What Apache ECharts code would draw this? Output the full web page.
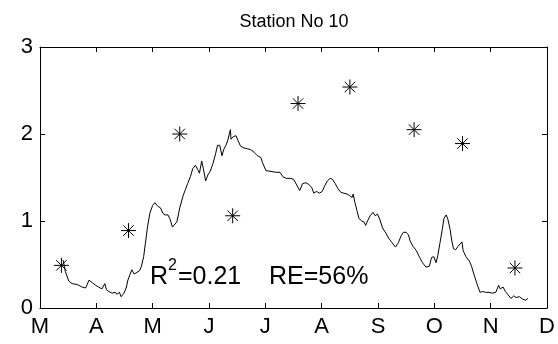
<!DOCTYPE html>
<html>
<head>
<meta charset="utf-8">
<script src="https://cdn.jsdelivr.net/npm/echarts@6/dist/echarts.min.js"></script>
<style>
  html, body { margin: 0; padding: 0; background: #fff; }
  #chart { width: 558px; height: 344px; }
</style>
</head>
<body>
<div id="chart"></div>
<script>
// Month labels along the x axis (one per month start, March to December)
const monthLabels = ['M', 'A', 'M', 'J', 'J', 'A', 'S', 'O', 'N', 'D'];
const yTicks = [0, 1, 2, 3];

// Simulated series: time in months since 1 March, value
const simX = [
  0.41, 0.45, 0.51, 0.57, 0.66, 0.75, 0.81, 0.87, 0.93, 0.99, 1.04, 1.10, 1.15, 1.18, 1.22, 1.28,
  1.33, 1.37, 1.41, 1.44, 1.49, 1.53, 1.56, 1.60, 1.63, 1.67, 1.72, 1.77, 1.80, 1.84, 1.87, 1.91,
  1.95, 2.00, 2.04, 2.09, 2.14, 2.18, 2.22, 2.27, 2.31, 2.35, 2.38, 2.43, 2.48, 2.54,
  2.58, 2.62, 2.67, 2.71, 2.76, 2.80, 2.83, 2.87, 2.90, 2.94, 2.98, 3.02, 3.07, 3.12, 3.15, 3.19,
  3.23, 3.26, 3.30, 3.33, 3.36, 3.38, 3.39, 3.43, 3.48, 3.51, 3.56, 3.62, 3.68, 3.74, 3.80, 3.86,
  3.92, 3.95, 4.01, 4.10, 4.18, 4.26, 4.31, 4.37, 4.44, 4.50, 4.56, 4.61, 4.66, 4.72, 4.77, 4.82,
  4.86, 4.91, 4.96, 5.01, 5.05, 5.10, 5.15, 5.19, 5.24, 5.29, 5.34, 5.39, 5.45, 5.50, 5.54, 5.56,
  5.59, 5.63, 5.66, 5.71, 5.75, 5.78, 5.82, 5.86, 5.91, 5.95, 5.99, 6.03, 6.08, 6.14, 6.19, 6.25,
  6.31, 6.36, 6.41, 6.45, 6.50, 6.54, 6.57, 6.62, 6.68, 6.74, 6.79, 6.85, 6.91, 6.95, 6.99, 7.03,
  7.06, 7.10, 7.14, 7.17, 7.21, 7.24, 7.28, 7.31, 7.34, 7.38, 7.42, 7.45, 7.49, 7.51, 7.56, 7.62,
  7.66, 7.71, 7.76, 7.81, 7.85, 7.91, 7.97, 8.03, 8.09, 8.14, 8.17, 8.22, 8.26, 8.31, 8.36, 8.41,
  8.45, 8.51, 8.57, 8.62, 8.66
];
const simY = [
  0.55, 0.42, 0.31, 0.28, 0.27, 0.24, 0.23, 0.32, 0.29, 0.26, 0.24, 0.22, 0.28, 0.21, 0.19, 0.17,
  0.18, 0.16, 0.18, 0.13, 0.17, 0.23, 0.32, 0.39, 0.44, 0.39, 0.41, 0.43, 0.48, 0.59, 0.74, 0.94,
  1.09, 1.18, 1.21, 1.17, 1.15, 1.09, 1.07, 1.07, 1.02, 0.93, 0.91, 0.99, 1.15, 1.29,
  1.36, 1.43, 1.51, 1.60, 1.64, 1.59, 1.55, 1.69, 1.60, 1.46, 1.53, 1.57, 1.66, 1.78, 1.87, 1.87,
  1.75, 1.82, 1.87, 1.92, 2.00, 2.05, 1.94, 1.97, 1.98, 1.93, 1.86, 1.84, 1.83, 1.82, 1.79, 1.75,
  1.73, 1.67, 1.58, 1.57, 1.56, 1.56, 1.51, 1.49, 1.49, 1.48, 1.41, 1.35, 1.43, 1.44, 1.42, 1.39,
  1.32, 1.34, 1.32, 1.34, 1.40, 1.46, 1.49, 1.48, 1.43, 1.37, 1.33, 1.32, 1.31, 1.29, 1.27, 1.31,
  1.21, 1.11, 1.03, 1.00, 0.99, 0.95, 1.01, 1.06, 1.10, 1.06, 1.08, 1.02, 0.92, 0.86, 0.80, 0.75,
  0.70, 0.75, 0.83, 0.87, 0.87, 0.84, 0.77, 0.71, 0.66, 0.58, 0.52, 0.47, 0.48, 0.58, 0.59, 0.52,
  0.60, 0.75, 0.90, 1.03, 1.07, 1.02, 0.90, 0.77, 0.68, 0.67, 0.71, 0.72, 0.76, 0.66, 0.59, 0.54,
  0.48, 0.37, 0.27, 0.18, 0.19, 0.18, 0.18, 0.17, 0.18, 0.26, 0.22, 0.24, 0.19, 0.15, 0.11, 0.14,
  0.12, 0.13, 0.10, 0.09, 0.11
];

// Observed values (asterisks)
const obsX = [0.38, 1.57, 2.48, 3.42, 4.58, 5.50, 6.64, 7.50, 8.43];
const obsY = [0.49, 0.89, 2.00, 1.06, 2.35, 2.54, 2.05, 1.89, 0.46];

const titleText = 'Station No 10';
const statR2 = '0.21';
const statRE = '56%';

const FONT = "'Liberation Sans', Arial, Helvetica, sans-serif";
const INK = '#000';

// MATLAB-style '*' marker: plus with shorter diagonals
const STAR = 'path://M0,-10L0,10M-10,0L10,0M-7,-7L7,7M-7,7L7,-7';

const chart = echarts.init(document.getElementById('chart'), null, { renderer: 'canvas' });

const boxAxis = (extra) => Object.assign({
  type: 'value',
  axisLine: { show: true, onZero: false, lineStyle: { color: INK, width: 1 } },
  axisTick: { show: true, inside: true, length: 5, lineStyle: { color: INK, width: 1 } },
  splitLine: { show: false },
  axisLabel: { show: false }
}, extra);

chart.setOption({
  animation: false,
  backgroundColor: '#fff',
  grid: { left: 40, right: 10, top: 47, bottom: 36, containLabel: false },
  xAxis: [
    boxAxis({
      position: 'bottom', min: 0, max: monthLabels.length - 1, interval: 1,
      axisLabel: {
        show: true, color: INK, fontFamily: FONT, fontSize: 22, margin: 8,
        hideOverlap: false, showMinLabel: true, showMaxLabel: true,
        formatter: (v) => monthLabels[Math.round(v)]
      }
    }),
    boxAxis({ position: 'top', min: 0, max: monthLabels.length - 1, interval: 1 })
  ],
  yAxis: [
    boxAxis({
      position: 'left', min: yTicks[0], max: yTicks[yTicks.length - 1], interval: 1,
      axisLabel: {
        show: true, color: INK, fontFamily: FONT, fontSize: 22, margin: 7,
        hideOverlap: false, showMinLabel: true, showMaxLabel: true
      }
    }),
    boxAxis({ position: 'right', min: yTicks[0], max: yTicks[yTicks.length - 1], interval: 1 })
  ],
  series: [
    {
      type: 'line',
      data: simX.map((x, i) => [x, simY[i]]),
      showSymbol: false,
      symbol: 'none',
      lineStyle: { color: INK, width: 1 },
      silent: true
    },
    {
      type: 'scatter',
      data: obsX.map((x, i) => [x, obsY[i]]),
      symbol: STAR,
      symbolSize: 15,
      itemStyle: { color: 'none', borderColor: INK, borderWidth: 1, opacity: 1 },
      silent: true
    }
  ],
  graphic: [
    {
      type: 'text', x: 294, y: 22,
      style: {
        text: titleText, fill: INK, font: `18px ${FONT}`,
        textAlign: 'center', textVerticalAlign: 'middle'
      }
    },
    // R² annotation: base letter, raised exponent, then the value
    {
      type: 'text', x: 150, y: 277,
      style: { text: 'R', fill: INK, font: `25px ${FONT}`, textVerticalAlign: 'middle' }
    },
    {
      type: 'text', x: 168, y: 266,
      style: { text: '2', fill: INK, font: `16px ${FONT}`, textVerticalAlign: 'middle' }
    },
    {
      type: 'text', x: 178, y: 277,
      style: { text: `=${statR2}`, fill: INK, font: `25px ${FONT}`, textVerticalAlign: 'middle' }
    },
    {
      type: 'text', x: 269, y: 277,
      style: {
        text: `RE=${statRE}`, fill: INK, font: `25px ${FONT}`,
        textVerticalAlign: 'middle'
      }
    }
  ]
});
</script>
</body>
</html>
